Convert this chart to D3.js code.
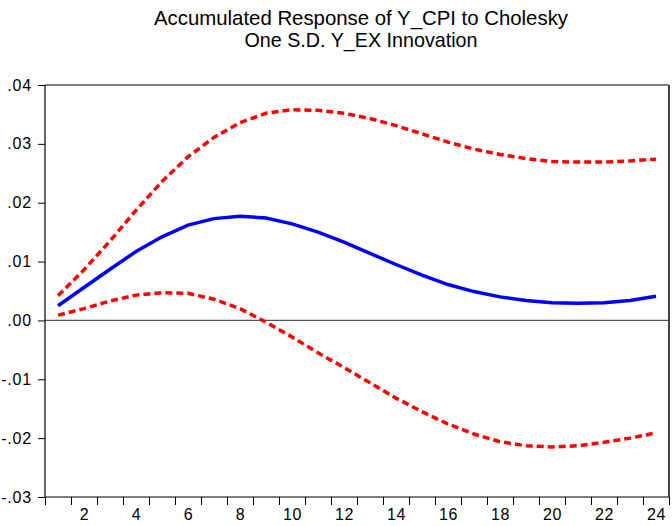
<!DOCTYPE html>
<html>
<head>
<meta charset="utf-8">
<script src="https://cdn.jsdelivr.net/npm/d3@7/dist/d3.min.js"></script>
<style>
  html, body { margin: 0; padding: 0; background: #fff; }
  svg { display: block; }
  text { font-family: "Liberation Sans", Arial, sans-serif; fill: #000; }
</style>
</head>
<body>
<svg id="chart" width="672" height="526"></svg>
<script>
const periods = d3.range(1, 25);
const response = [0.0025, 0.0056, 0.0087, 0.0117, 0.0142, 0.0162, 0.0173, 0.0177, 0.0174, 0.0164, 0.0150, 0.0133, 0.0114, 0.0095, 0.0077, 0.0061, 0.0049, 0.0040, 0.0034, 0.0030, 0.0029, 0.0030, 0.0034, 0.0041];
const upperBand = [0.0042, 0.0086, 0.0135, 0.0187, 0.0236, 0.0278, 0.0311, 0.0336, 0.0352, 0.0358, 0.0357, 0.0352, 0.0343, 0.0331, 0.0317, 0.0303, 0.0291, 0.0282, 0.0275, 0.0270, 0.0269, 0.0269, 0.0271, 0.0274];
const lowerBand = [0.0009, 0.0020, 0.0033, 0.0043, 0.0047, 0.0046, 0.0036, 0.0020, -0.0003, -0.0028, -0.0055, -0.0080, -0.0106, -0.0132, -0.0155, -0.0176, -0.0193, -0.0206, -0.0213, -0.0215, -0.0213, -0.0207, -0.0200, -0.0191];
const yTicks = [-0.03, -0.02, -0.01, 0.00, 0.01, 0.02, 0.03, 0.04];
const yTickLabels = ["-.03", "-.02", "-.01", ".00", ".01", ".02", ".03", ".04"];
const xTickLabels = [2, 4, 6, 8, 10, 12, 14, 16, 18, 20, 22, 24];
const titleLines = ["Accumulated Response of Y_CPI to Cholesky", "One S.D. Y_EX Innovation"];

const svg = d3.select("#chart");
const m = { left: 45, right: 669, top: 85, bottom: 497 };

const x = d3.scaleLinear().domain([0.5, 24.5]).range([m.left, m.right]);
const y = d3.scaleLinear().domain([-0.03, 0.04]).range([m.bottom, m.top]);

// Title
const titleWidths = [414, 233];
const titleBase = [25, 47];
titleLines.forEach((t, i) => {
  svg.append("text")
    .attr("x", 361).attr("y", titleBase[i])
    .attr("text-anchor", "middle")
    .attr("textLength", titleWidths[i])
    .attr("lengthAdjust", "spacingAndGlyphs")
    .style("font-size", "21px")
    .text(t);
});

// Y axis
const yAxis = svg.append("g")
  .attr("transform", `translate(${m.left},0)`)
  .call(d3.axisLeft(y).tickValues(yTicks).tickSize(7).tickPadding(6)
    .tickFormat((d, i) => yTickLabels[i]));
yAxis.select(".domain").remove();
yAxis.selectAll("line").attr("stroke", "#000");
yAxis.selectAll("text").style("font-size", "16px").style("letter-spacing", "0.8px")
  .style("font-family", "Liberation Sans, Arial, sans-serif");

// X axis tick marks at band boundaries
const xBound = d3.range(0.5, 25, 1);
const xAxis = svg.append("g")
  .attr("transform", `translate(0,${m.bottom})`)
  .call(d3.axisBottom(x).tickValues(xBound).tickSize(8).tickFormat(""));
xAxis.select(".domain").remove();
xAxis.selectAll("line").attr("stroke", "#000");

// X labels
const xLab = svg.append("g")
  .attr("transform", `translate(0,${m.bottom})`)
  .call(d3.axisBottom(x).tickValues(xTickLabels).tickSize(0).tickPadding(12).tickFormat(d3.format("d")));
xLab.select(".domain").remove();
xLab.selectAll("text").style("font-size", "16px").style("letter-spacing", "0.5px")
  .style("font-family", "Liberation Sans, Arial, sans-serif");

// Zero line
svg.append("line")
  .attr("x1", m.left).attr("x2", m.right)
  .attr("y1", y(0)).attr("y2", y(0))
  .attr("stroke", "#555").attr("stroke-width", 1.2);

// Lines
const line = d3.line().x((d, i) => x(periods[i])).y(d => y(d)).curve(d3.curveLinear);

svg.append("path").datum(upperBand)
  .attr("d", line).attr("fill", "none")
  .attr("stroke", "#ff0000").attr("stroke-width", 3.5).attr("stroke-dasharray", "7,4");
svg.append("path").datum(lowerBand)
  .attr("d", line).attr("fill", "none")
  .attr("stroke", "#ff0000").attr("stroke-width", 3.5).attr("stroke-dasharray", "7,4");
svg.append("path").datum(response)
  .attr("d", line).attr("fill", "none")
  .attr("stroke", "#0000ff").attr("stroke-width", 3.5);

// Frame
svg.append("line").attr("x1", m.left).attr("x2", m.right).attr("y1", m.top).attr("y2", m.top).attr("stroke", "#000").attr("stroke-width", 1.2);
svg.append("line").attr("x1", m.left).attr("x2", m.right).attr("y1", m.bottom).attr("y2", m.bottom).attr("stroke", "#000").attr("stroke-width", 1.2);
svg.append("line").attr("x1", m.left).attr("x2", m.left).attr("y1", m.top).attr("y2", m.bottom).attr("stroke", "#000").attr("stroke-width", 1.2);
svg.append("line").attr("x1", m.right).attr("x2", m.right).attr("y1", m.top).attr("y2", m.bottom).attr("stroke", "#444").attr("stroke-width", 2);
</script>
</body>
</html>
